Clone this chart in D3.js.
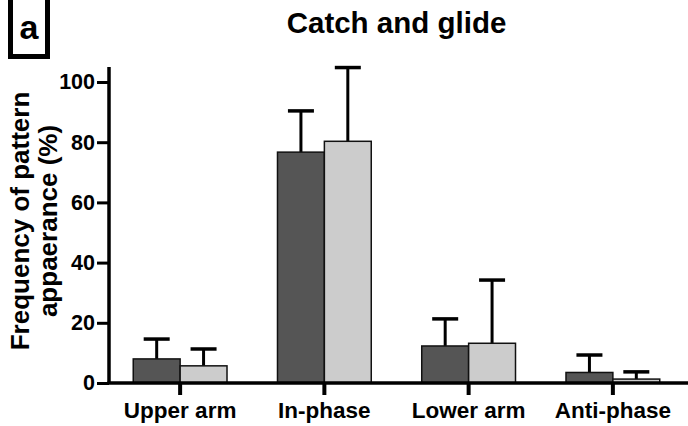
<!DOCTYPE html>
<html><head><meta charset="utf-8">
<script src="https://cdn.jsdelivr.net/npm/d3@7"></script>
<style>body{margin:0;background:#fff}svg{display:block;font-family:Arial,"Liberation Sans",sans-serif}</style>
</head><body><svg id="c" width="688" height="426"></svg>
<script>
const categories = ["Upper arm","In-phase","Lower arm","Anti-phase"];
const series1Values = [8.0, 76.7, 12.3, 3.5];
const series1Errors = [6.6, 13.7, 9.0, 5.8];
const series2Values = [5.7, 80.3, 13.2, 1.3];
const series2Errors = [5.6, 24.5, 21.0, 2.4];
const yTicks = [0,20,40,60,80,100];
const title = "Catch and glide";
const panelLabel = "a";
const yLabelLines = ["Frequency of pattern","appaerance (%)"];

const FF = "Arial,'Liberation Sans',sans-serif";
const svg = d3.select("#c");
const y = d3.scaleLinear().domain([0,100]).range([383,82]);
const x = d3.scaleBand().domain(categories).range([108,685]).paddingInner(0.35).paddingOuter(0.175);
const half = x.bandwidth()/2;

// panel label box
svg.append("rect").attr("x",10.5).attr("y",-5).attr("width",37).attr("height",61.5)
  .attr("fill","#fff").attr("stroke","#000").attr("stroke-width",5);
svg.append("text").attr("x",29).attr("y",39).attr("text-anchor","middle")
  .attr("font-size",34).attr("font-weight","bold").text(panelLabel);

svg.append("text").attr("x",396.5).attr("y",33).attr("text-anchor","middle")
  .attr("font-size",29.5).attr("font-weight","bold").text(title);

// y label
const yl = svg.append("text").attr("transform","translate(0,221) rotate(-90)")
  .attr("text-anchor","middle").attr("font-size",26).attr("font-weight","bold");
yLabelLines.forEach((t,i)=>yl.append("tspan").attr("x",0).attr("y",28.5+i*28.5).text(t));

// bars
const g = svg.append("g");
categories.forEach((c,i)=>{
  const cx = x(c)+half;
  const data = [
    {v:series1Values[i], e:series1Errors[i], x0:cx-half, fill:"#555555"},
    {v:series2Values[i], e:series2Errors[i], x0:cx, fill:"#cccccc"}
  ];
  data.forEach(d=>{
    const bc = d.x0 + half/2;
    g.append("line").attr("x1",bc).attr("x2",bc).attr("y1",y(d.v)).attr("y2",y(d.v+d.e))
      .attr("stroke","#000").attr("stroke-width",3);
    g.append("line").attr("x1",bc-13).attr("x2",bc+13).attr("y1",y(d.v+d.e)).attr("y2",y(d.v+d.e))
      .attr("stroke","#000").attr("stroke-width",3.5);
    g.append("rect").attr("x",d.x0).attr("y",y(d.v)).attr("width",half).attr("height",y(0)-y(d.v))
      .attr("fill",d.fill).attr("stroke","#111").attr("stroke-width",1.5);
  });
});

// y axis
const ya = svg.append("g").attr("transform","translate(109,0)")
  .call(d3.axisLeft(y).tickValues(yTicks).tickSize(12).tickPadding(2).tickSizeOuter(0));
ya.select(".domain").attr("stroke-width",3.5).attr("d","M0,384V67");
ya.selectAll(".tick line").attr("stroke-width",3);
ya.selectAll(".tick text").attr("font-size",21.5).attr("font-weight","bold").attr("fill","#000")
  .attr("font-family",FF);

// x axis
const xa = svg.append("g").attr("transform","translate(0,383)")
  .call(d3.axisBottom(x).tickSize(12).tickPadding(7).tickSizeOuter(0));
xa.select(".domain").attr("stroke-width",3.5).attr("d","M107.5,0H688");
xa.selectAll(".tick line").attr("stroke-width",4);
xa.selectAll(".tick text").attr("font-size",22.5).attr("font-weight","bold").attr("fill","#000")
  .attr("font-family",FF);
</script></body></html>
